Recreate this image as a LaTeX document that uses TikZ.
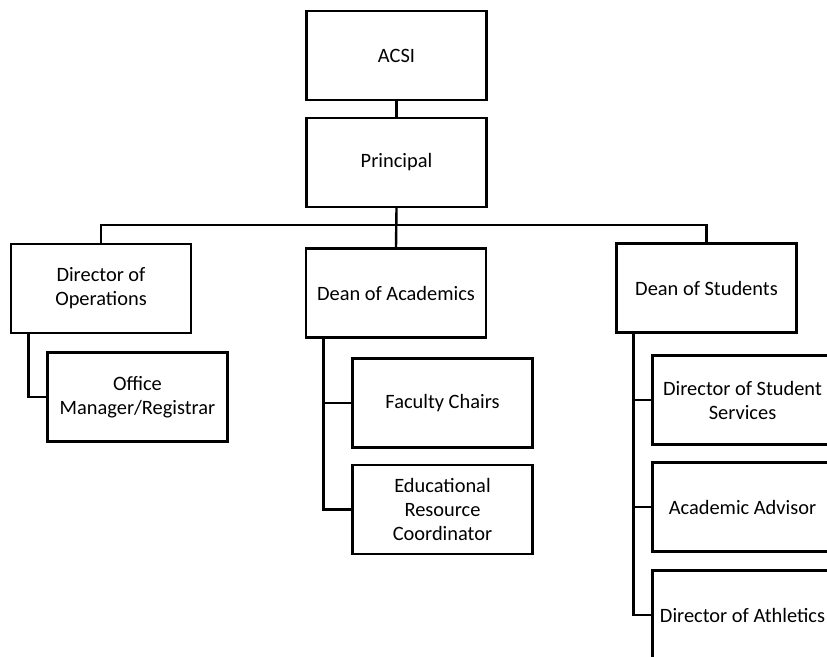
\documentclass[tikz,border=0pt]{standalone}
\usepackage{fontspec}
\setmainfont{Carlito}

\begin{document}
\begin{tikzpicture}[x=0.75pt,y=-0.75pt,
        post/.style={draw,line width=1.8pt,rectangle,minimum width=135pt,minimum height=66.5pt,
            inner sep=0pt,align=center,font=\fontsize{15.3}{18}\selectfont},
        link/.style={line width=1.8pt}]
                \useasboundingbox (0,0) rectangle (827,656);
                \clip (0,0) rectangle (827,656);
                \node[post] (acsi) at (396.5,55.5) {ACSI};
                \node[post] (principal) at (396.5,162.5) {Principal};
                \node[post] (ops) at (101,288.5) {Director of\\Operations};
                \node[post] (acad) at (396,293) {Dean of Academics};
                \node[post] (students) at (706.5,288) {Dean of Students};
                \node[post] (office) at (137.5,397) {Office\\Manager/Registrar};
                \node[post] (faculty) at (442.5,403) {Faculty Chairs};
                \node[post] (edu) at (442.5,509.5) {Educational\\Resource\\Coordinator};
                \node[post] (dss) at (742.5,400) {Director of Student\\Services};
                \node[post] (advisor) at (742.5,507) {Academic Advisor};
                \node[post] (athletics) at (742.5,615) {Director of Athletics};
                \coordinate (bus) at (396,225);
                \draw[link] (acsi) -- (principal);
                \draw[link] (principal.south) -- (acad.north);
                \draw[link] (ops.north) |- (bus) -| (students.north);
                \draw[link] ([xshift=14pt]ops.south west) |- (office.west);
                \foreach \c in {faculty,edu}{
                    \draw[link] ([xshift=14pt]acad.south west) |- (\c.west);
                }
                \foreach \c in {dss,advisor,athletics}{
                    \draw[link] ([xshift=13.5pt]students.south west) |- (\c.west);
                }
            \end{tikzpicture}
\end{document}
